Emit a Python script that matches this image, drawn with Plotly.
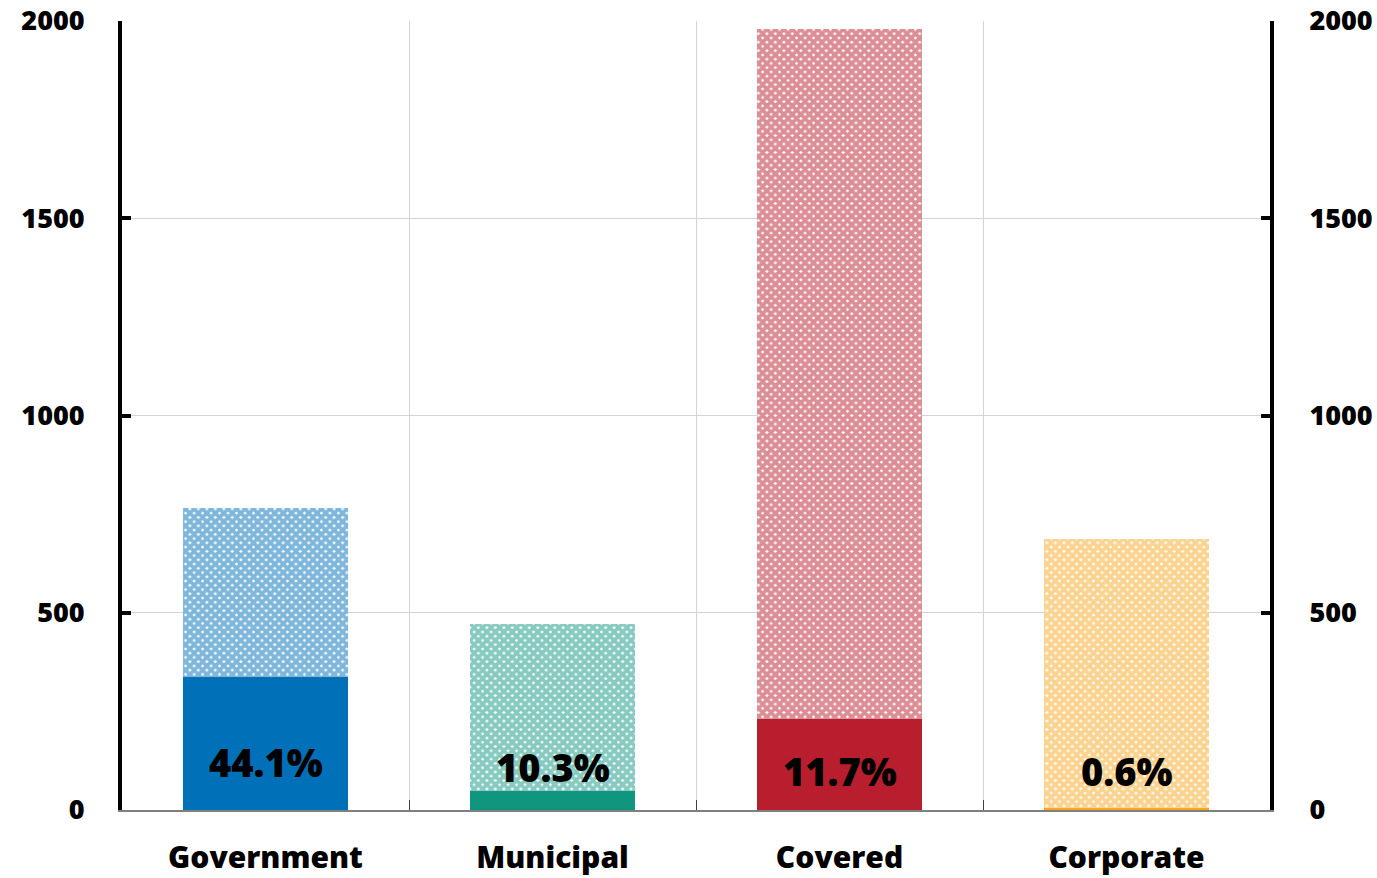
import plotly.graph_objects as go

categories = ["Government", "Municipal", "Covered", "Corporate"]
totals = [765, 472, 1980, 688]
solid = [337, 48.6, 231.7, 4.1]
pct_labels = ["44.1%", "10.3%", "11.7%", "0.6%"]
label_y = [121, 108, 98, 98]
colors = ["#0070B8", "#10967F", "#B81E2D", "#F7A823"]
yticks = [0, 500, 1000, 1500, 2000]

hatched = [t - s for t, s in zip(totals, solid)]
FONT = "Open Sans"

fig = go.Figure()
fig.add_trace(go.Bar(x=categories, y=solid, marker=dict(color=colors, line=dict(width=0)),
                     width=0.575, showlegend=False))
fig.add_trace(go.Bar(x=categories, y=hatched, width=0.575, showlegend=False,
                     marker=dict(color="white", line=dict(width=0),
                                 pattern=dict(shape="x", fgcolor=colors, bgcolor="white",
                                              size=6, solidity=0.85, fillmode="overlay"))))
# invisible trace for right axis
fig.add_trace(go.Scatter(x=categories, y=totals, yaxis="y2", mode="markers",
                         marker=dict(opacity=0), showlegend=False, hoverinfo="skip"))

for c, t, yv in zip(categories, pct_labels, label_y):
    fig.add_annotation(x=c, y=yv, text=t, showarrow=False,
                       font=dict(family=FONT, size=38, color="black", weight=800))

axis_common = dict(range=[0, 2000], tickvals=yticks, showline=True, linewidth=4,
                   linecolor="black", ticks="inside", ticklen=9, tickwidth=4,
                   tickcolor="black", automargin=False,
                   tickfont=dict(family=FONT, size=27, color="black", weight=800))

fig.update_layout(
    width=1377, height=878,
    margin=dict(l=122, r=107, t=21, b=68),
    plot_bgcolor="white", paper_bgcolor="white",
    barmode="stack", bargap=0.425,
    xaxis=dict(type="category", tickson="boundaries", showgrid=True, gridcolor="#D3D3D3",
               gridwidth=1, showline=True, linecolor="#7F7F7F", linewidth=2,
               ticks="inside", ticklen=10, tickcolor="#404040", tickwidth=1,
               automargin=False,
               tickfont=dict(family=FONT, size=30, color="black", weight=800),
               ticklabelstandoff=20),
    yaxis=dict(**axis_common, showgrid=True, gridcolor="#D3D3D3", gridwidth=1,
               zeroline=False, ticklabelstandoff=28),
    yaxis2=dict(**axis_common, overlaying="y", side="right", showgrid=False,
                zeroline=False, ticklabelstandoff=30),
)

fig.write_html("out.html")
